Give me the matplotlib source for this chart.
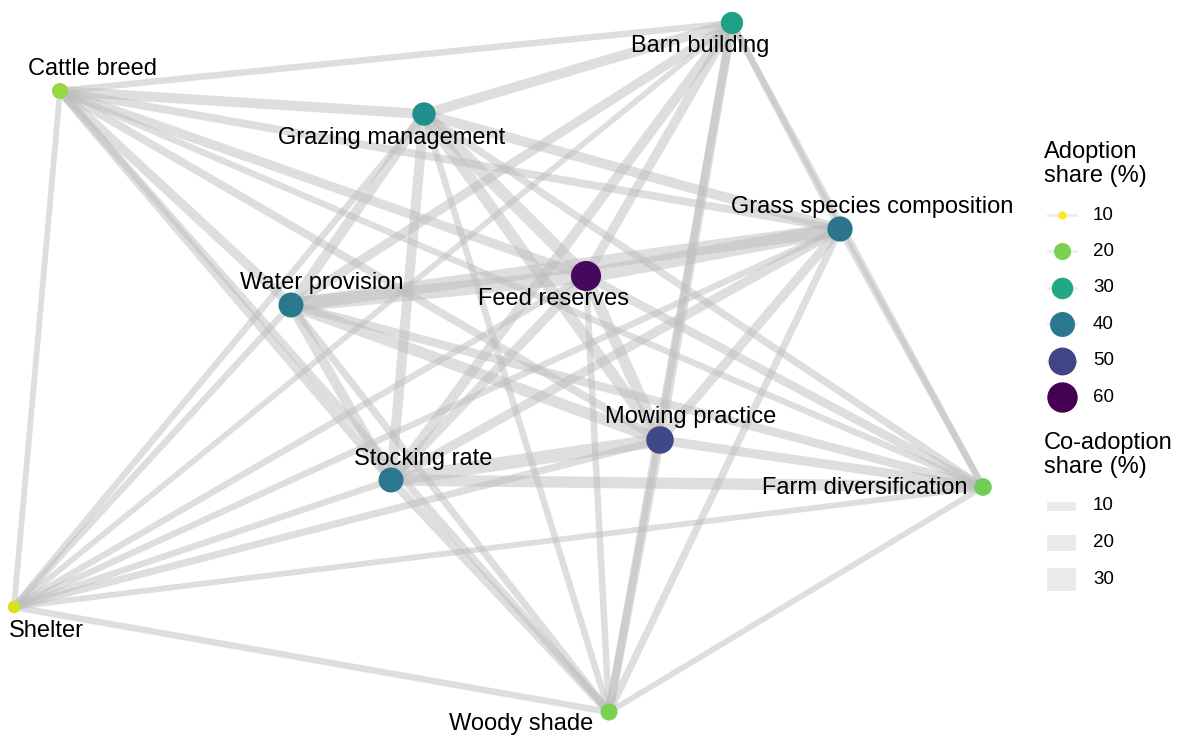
import numpy as np
import matplotlib
matplotlib.use('Agg')
import matplotlib.pyplot as plt
from matplotlib import colors
from matplotlib.patches import Rectangle

# practices, network layout (layout units) and adoption share (%)
practices = ['Cattle breed', 'Barn building', 'Grazing management',
             'Grass species composition', 'Feed reserves', 'Water provision',
             'Mowing practice', 'Stocking rate', 'Farm diversification',
             'Shelter', 'Woody shade']
layout_x = [60, 732, 424, 840, 586, 291, 660, 391, 983, 14, 609]
layout_y = [91, 23, 114, 229, 276, 305, 440, 480, 487, 607, 712]
adoption = [18, 32, 35, 41, 59, 40, 49, 40, 21, 13, 20]

# co-adoption share (%) for every pair of practices
edge_from = ['Cattle breed'] * 10 + ['Shelter'] * 9 + ['Woody shade'] * 8 + \
            ['Farm diversification'] * 7 + ['Barn building'] * 6 + \
            ['Grazing management'] * 5 + ['Grass species composition'] * 4 + \
            ['Feed reserves'] * 3 + ['Water provision'] * 2 + ['Mowing practice']
edge_to = ['Barn building', 'Grazing management', 'Grass species composition', 'Feed reserves',
           'Water provision', 'Mowing practice', 'Stocking rate', 'Farm diversification',
           'Shelter', 'Woody shade',
           'Barn building', 'Grazing management', 'Grass species composition', 'Feed reserves',
           'Water provision', 'Mowing practice', 'Stocking rate', 'Farm diversification',
           'Woody shade',
           'Barn building', 'Grazing management', 'Grass species composition', 'Feed reserves',
           'Water provision', 'Mowing practice', 'Stocking rate', 'Farm diversification',
           'Barn building', 'Grazing management', 'Grass species composition', 'Feed reserves',
           'Water provision', 'Mowing practice', 'Stocking rate',
           'Grass species composition', 'Grazing management', 'Feed reserves',
           'Water provision', 'Mowing practice', 'Stocking rate',
           'Grass species composition', 'Feed reserves', 'Water provision',
           'Mowing practice', 'Stocking rate',
           'Feed reserves', 'Water provision', 'Mowing practice', 'Stocking rate',
           'Water provision', 'Mowing practice', 'Stocking rate',
           'Mowing practice', 'Stocking rate',
           'Stocking rate']
co_adoption = [5, 10, 7, 9, 9, 7, 8, 5, 4, 6,
               4, 5, 5, 5, 5, 6, 5, 4, 5,
               7, 5, 6, 5, 6, 8, 8, 4,
               5, 6, 5, 8, 8, 9, 12,
               5, 10, 9, 9, 9, 10,
               10, 13, 10, 12, 10,
               17, 15, 9, 9,
               17, 12, 9,
               12, 10,
               15]

# label placement (px offsets from node)
label_dx = [32, -32, -32, 32, -33, 31, 31, 32, -15, 32, -88]
label_dy = [-22, 23, 24, -22, 23, -22, -23, -21, 1, 24, 12]
label_ha = ['center'] * 8 + ['right', 'center', 'center']

size_breaks = [10, 20, 30, 40, 50, 60]
width_breaks = [10, 20, 30]

plt.rcParams['font.family'] = ['Liberation Sans', 'DejaVu Sans']
PX = 0.72  # points per pixel at dpi 100

norm = colors.Normalize(vmin=10, vmax=60)
cmap = plt.get_cmap('viridis_r')


def node_diam(v):
    v = np.asarray(v, dtype=float)
    return 6 + 24.5 * np.sqrt(np.clip((v - 9.5) / 51.0, 0, 1))


def edge_px(s):
    return 3 + 0.7 * np.asarray(s, dtype=float)


fig = plt.figure(figsize=(11.79, 7.40), dpi=100)
ax = fig.add_axes([0, 0, 1, 1])
ax.set_xlim(0, 1179)
ax.set_ylim(740, 0)
ax.axis('off')

pos = {p: (x, y) for p, x, y in zip(practices, layout_x, layout_y)}
for a, b, s in zip(edge_from, edge_to, co_adoption):
    (x0, y0), (x1, y1) = pos[a], pos[b]
    ax.plot([x0, x1], [y0, y1], color='#BEBEBE', alpha=0.5,
            lw=edge_px(s) * PX, solid_capstyle='butt', zorder=1)

ax.scatter(layout_x, layout_y, s=(node_diam(adoption) * PX) ** 2,
           c=cmap(norm(adoption)), linewidths=0, zorder=3)

for p, x, y, dx, dy, ha in zip(practices, layout_x, layout_y, label_dx, label_dy, label_ha):
    ax.text(x + dx, y + dy, p, ha=ha, va='center', fontsize=17, color='black', zorder=4)

# legend: adoption share
ax.text(1044, 164, 'Adoption\nshare (%)', ha='left', va='center', fontsize=17,
        linespacing=1.12)
for i, v in enumerate(size_breaks):
    yk = 215 + i * 36.4
    ax.plot([1048, 1076], [yk, yk], color='#EEEEEE', lw=3 * PX, zorder=2)
    ax.scatter([1062], [yk], s=(node_diam(v) * PX) ** 2, c=[cmap(norm(v))],
               linewidths=0, zorder=3)
    ax.text(1093, yk, str(v), ha='left', va='center', fontsize=13.5)

# legend: co-adoption share
ax.text(1044, 455, 'Co-adoption\nshare (%)', ha='left', va='center', fontsize=17,
        linespacing=1.12)
for i, v in enumerate(width_breaks):
    yk = 506 + i * 36.5
    h = float(edge_px(v)) - 1
    ax.add_patch(Rectangle((1047, yk - h / 2), 29, h, facecolor='#EBEBEB',
                           edgecolor='none', zorder=2))
    ax.text(1093, yk, str(v), ha='left', va='center', fontsize=13.5)

fig.savefig('out.png', dpi=100)
